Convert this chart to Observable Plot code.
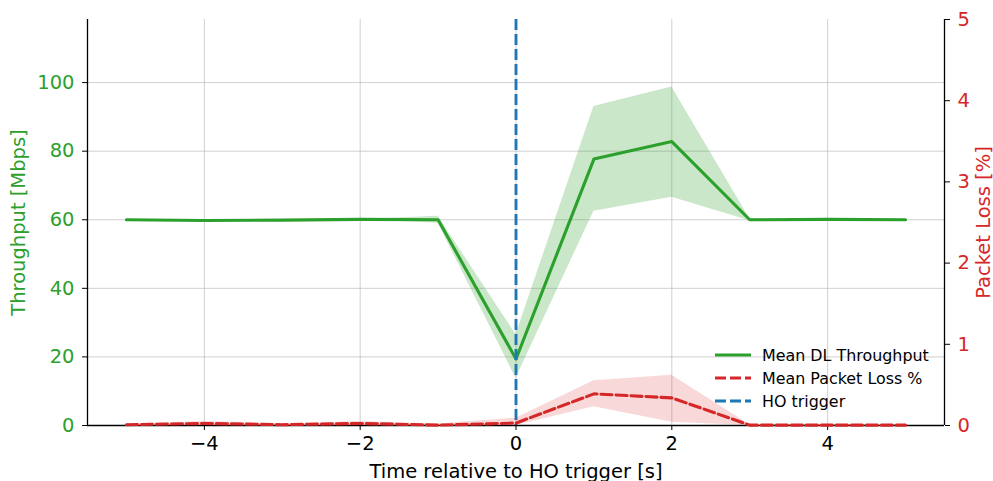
<!DOCTYPE html>
<html>
<head>
<meta charset="utf-8">
<script src="https://cdn.jsdelivr.net/npm/d3@7"></script>
<script src="https://cdn.jsdelivr.net/npm/@observablehq/plot@0.6"></script>
<style>
  html, body { margin: 0; padding: 0; background: #fff; }
  #chart { position: relative; width: 993px; height: 481px; }
</style>
</head>
<body>
<div id="chart"></div>
<script>
// ---- data ----
const time = [-5, -4, -3, -2, -1, 0, 1, 2, 3, 4, 5];
const throughput   = [60.0, 59.8, 59.9, 60.1, 60.0, 19.4, 77.7, 82.8, 60.0, 60.1, 60.0];
const throughputLo = [60.0, 59.8, 59.9, 60.1, 59.0, 13.8, 62.5, 66.6, 59.7, 60.1, 60.0];
const throughputHi = [60.0, 59.8, 59.9, 60.1, 61.0, 26.5, 93.0, 98.7, 60.3, 60.1, 60.0];
const loss   = [0.010, 0.025, 0.010, 0.025, 0.005, 0.030, 0.390, 0.340, 0.005, 0.005, 0.005];
const lossLo = [0.000, 0.000, 0.000, 0.000, 0.000, 0.000, 0.230, 0.040, 0.000, 0.000, 0.000];
const lossHi = [0.020, 0.050, 0.020, 0.050, 0.020, 0.090, 0.550, 0.620, 0.010, 0.010, 0.010];
const hoTrigger = [0];
const xTicks = [-4, -2, 0, 2, 4];
const yTicksLeft = [0, 20, 40, 60, 80, 100];
const yTicksRight = [0, 1, 2, 3, 4, 5];
const legendLabels = ["Mean DL Throughput", "Mean Packet Loss %", "HO trigger"];

const GREEN = "#2ca02c", RED = "#d62728", BLUE = "#1f77b4";
const Y_MAX = 118.4;       // left axis top (Mbps)
const LOSS_MAX = 5;        // right axis top (%)
const k = Y_MAX / LOSS_MAX; // secondary-axis scale factor
const DASH = "11,4";

const rows = time.map((t, i) => ({
  t, tp: throughput[i], tpLo: throughputLo[i], tpHi: throughputHi[i],
  pl: loss[i], plLo: lossLo[i], plHi: lossHi[i]
}));

const fmtMinus = d => d < 0 ? "\u2212" + Math.abs(d) : String(d);

const plot = Plot.plot({
  width: 993,
  height: 481,
  marginLeft: 87,
  marginRight: 49,
  marginTop: 19,
  marginBottom: 56,
  style: { fontFamily: "DejaVu Sans, sans-serif", fontSize: "19.5px", background: "#fff", color: "#000" },
  x: { domain: [-5.5, 5.5] },
  y: { domain: [0, Y_MAX] },
  marks: [
    Plot.gridX(xTicks, { stroke: "#b0b0b0", strokeOpacity: 0.6, strokeWidth: 1 }),
    Plot.gridY(yTicksLeft, { stroke: "#b0b0b0", strokeOpacity: 0.6, strokeWidth: 1 }),
    // bottom axis
    Plot.axisX({ ticks: xTicks, tickSize: 5, tickPadding: 6, tickFormat: fmtMinus,
      label: "Time relative to HO trigger [s]", labelAnchor: "center", labelArrow: "none",
      labelOffset: 52, stroke: "#000", fill: "#000" }),
    // left axis
    Plot.axisY({ ticks: yTicksLeft, tickSize: 5, tickPadding: 8, anchor: "left",
      label: "Throughput [Mbps]", labelAnchor: "center", labelArrow: "none",
      labelOffset: 76, stroke: "#000", fill: GREEN }),
    // right axis (packet loss, scaled)
    Plot.axisY(yTicksRight.map(v => v * k), { tickSize: 5, tickPadding: 8, anchor: "right",
      tickFormat: d => String(Math.round(d / k)),
      label: "Packet Loss [%]", labelAnchor: "center", labelArrow: "none",
      labelOffset: 45, stroke: "#000", fill: RED }),
    // throughput band + line
    Plot.areaY(rows, { x: "t", y1: "tpLo", y2: "tpHi", fill: GREEN, fillOpacity: 0.25 }),
    Plot.lineY(rows, { x: "t", y: "tp", stroke: GREEN, strokeWidth: 3.1 }),
    Plot.ruleX(hoTrigger, { stroke: BLUE, strokeWidth: 2.9, strokeDasharray: DASH }),
    // spines
    Plot.ruleX([-5.5, 5.5], { stroke: "#000", strokeWidth: 1.3 }),
    Plot.ruleY([0], { stroke: "#000", strokeWidth: 1.3 }),
    // packet loss band + line (secondary axis)
    Plot.areaY(rows, { x: "t", y1: d => d.plLo * k, y2: d => d.plHi * k, fill: RED, fillOpacity: 0.18 }),
    Plot.lineY(rows, { x: "t", y: d => d.pl * k, stroke: RED, strokeWidth: 3.1, strokeDasharray: DASH })
  ]
});

document.getElementById("chart").appendChild(plot);

// legend (no frame), inside lower right of plot area
const svg = d3.select(plot);
const leg = svg.append("g")
  .attr("font-family", "DejaVu Sans, sans-serif")
  .attr("font-size", "15.9px")
  .attr("text-anchor", "start");
const styles = [
  { stroke: GREEN, dash: null, w: 3.1 },
  { stroke: RED, dash: DASH, w: 3.1 },
  { stroke: BLUE, dash: DASH, w: 2.9 }
];
const legX = 715, legY0 = 355, legDy = 23;
legendLabels.forEach((lab, i) => {
  const y = legY0 + i * legDy;
  leg.append("line").attr("x1", legX).attr("x2", legX + 36).attr("y1", y).attr("y2", y)
    .attr("stroke", styles[i].stroke).attr("stroke-width", styles[i].w)
    .attr("stroke-dasharray", styles[i].dash);
  leg.append("text").attr("x", legX + 47).attr("y", y).attr("dy", "0.35em")
    .attr("text-anchor", "start").attr("fill", "#000").text(lab);
});
</script>
</body>
</html>
